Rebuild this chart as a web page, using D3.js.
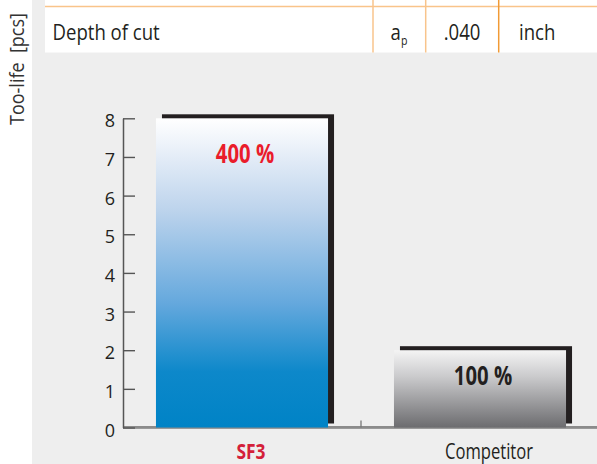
<!DOCTYPE html>
<html>
<head>
<meta charset="utf-8">
<script src="https://cdn.jsdelivr.net/npm/d3@7"></script>
<style>
  html, body { margin: 0; padding: 0; background: #ffffff; }
  svg { display: block; font-family: "Open Sans", "Noto Sans", sans-serif; }
</style>
</head>
<body>
<svg id="chart" width="597" height="464"></svg>
<script>
// ---- data ----
const categories = ["SF3", "Competitor"];
const toolLife = [8, 2];
const percentLabels = ["400 %", "100 %"];
const yTicks = [0, 1, 2, 3, 4, 5, 6, 7, 8];
const yTitle = "Too-life  [pcs]";
const tableLabel = "Depth of cut";
const tableSymbol = "a";
const tableSymbolSub = "p";
const tableValue = ".040";
const tableUnit = "inch";

// ---- layout ----
const W = 597, H = 464;
const svg = d3.select("#chart");
const defs = svg.append("defs");

const gBlue = defs.append("linearGradient").attr("id", "gBlue")
  .attr("x1", 0).attr("y1", 0).attr("x2", 0).attr("y2", 1);
[[0, "#ffffff"], [0.08, "#eef3fa"], [0.3, "#bcd3ec"], [0.6, "#64a8dd"], [0.82, "#0d88ca"], [1, "#0083c6"]]
  .forEach(([o, c]) => gBlue.append("stop").attr("offset", o).attr("stop-color", c));
const gGray = defs.append("linearGradient").attr("id", "gGray")
  .attr("x1", 0).attr("y1", 0).attr("x2", 0).attr("y2", 1);
[[0, "#f4f4f4"], [0.35, "#c9c9cb"], [1, "#6c6c6f"]]
  .forEach(([o, c]) => gGray.append("stop").attr("offset", o).attr("stop-color", c));

// background panels
svg.append("rect").attr("x", 32).attr("y", 0).attr("width", W - 32).attr("height", H).attr("fill", "#eeeeee");
svg.append("rect").attr("x", 45).attr("y", 0).attr("width", W - 45).attr("height", 52.5).attr("fill", "#ffffff");

// table row
const tbl = svg.append("g");
tbl.append("line").attr("x1", 45).attr("x2", W).attr("y1", 6.5).attr("y2", 6.5)
  .attr("stroke", "#f9c48a").attr("stroke-width", 1.6);
[[373, "#f8c48c"], [425.7, "#f8c48c"], [498.7, "#f19a35"]].forEach(([x, c]) => {
  tbl.append("line").attr("x1", x).attr("x2", x).attr("y1", 0).attr("y2", 52.5)
    .attr("stroke", c).attr("stroke-width", 1.5);
});
const tfs = 21, tsx = 0.885;
tbl.append("text").attr("transform", `translate(52.5,39.5) scale(${tsx},1)`)
  .attr("font-size", tfs).attr("fill", "#231f20").text(tableLabel);
const sym = tbl.append("text").attr("transform", `translate(399,39.5) scale(${tsx},1)`)
  .attr("font-size", tfs).attr("fill", "#231f20").attr("text-anchor", "middle");
sym.append("tspan").text(tableSymbol);
sym.append("tspan").attr("font-size", 12).attr("dy", 5).text(tableSymbolSub);
tbl.append("text").attr("transform", `translate(462,39.5) scale(${tsx},1)`)
  .attr("font-size", tfs).attr("fill", "#231f20").attr("text-anchor", "middle").text(tableValue);
tbl.append("text").attr("transform", `translate(519,39.5) scale(${tsx},1)`)
  .attr("font-size", tfs).attr("fill", "#231f20").text(tableUnit);

// y title
svg.append("text").attr("transform", "translate(23.5,125) rotate(-90) scale(0.9,1)")
  .attr("font-size", 20).attr("fill", "#333333").style("white-space", "pre").text(yTitle);

// scales
const y = d3.scaleLinear().domain([0, 8]).range([427.5, 118.3]);
const x = d3.scaleBand().domain(categories).range([123, 599])
  .paddingInner(0.277).paddingOuter(0.1385);

// dark base line (visible between bars)
svg.append("line").attr("x1", 123).attr("x2", W).attr("y1", y(0) - 0.5).attr("y2", y(0) - 0.5)
  .attr("stroke", "#6a6a6a").attr("stroke-width", 1.5);
// category separator tick
const sepX = x(categories[1]) - x.step() * x.paddingInner() / 2;
svg.append("line").attr("x1", sepX).attr("x2", sepX).attr("y1", y(0) - 7).attr("y2", y(0))
  .attr("stroke", "#777").attr("stroke-width", 1.3);

// bars
const bars = svg.append("g").selectAll("g").data(categories).join("g");
bars.append("rect")
  .attr("x", d => x(d) + 6).attr("y", (d, i) => y(toolLife[i]) - 4)
  .attr("width", x.bandwidth()).attr("height", (d, i) => y(0) - y(toolLife[i]))
  .attr("fill", "#231f20");
bars.append("rect")
  .attr("x", d => x(d)).attr("y", (d, i) => y(toolLife[i]))
  .attr("width", x.bandwidth()).attr("height", (d, i) => y(0) - y(toolLife[i]))
  .attr("fill", (d, i) => i === 0 ? "url(#gBlue)" : "url(#gGray)");
bars.append("text")
  .attr("transform", (d, i) => {
    const h = y(0) - y(toolLife[i]);
    const off = Math.max(35, Math.min(45, h * 0.15));
    return `translate(${x(d) + x.bandwidth() / 2 + 3},${y(toolLife[i]) + off}) scale(0.78,1)`;
  })
  .attr("text-anchor", "middle").attr("font-size", 26).attr("font-weight", 700)
  .attr("fill", (d, i) => i === 0 ? "#ea1c2b" : "#231f20")
  .text((d, i) => percentLabels[i]);

// light base line
svg.append("line").attr("x1", 123).attr("x2", W).attr("y1", y(0) + 1).attr("y2", y(0) + 1)
  .attr("stroke", "#9a9a9a").attr("stroke-width", 1.2);

// y axis
const yAxis = d3.axisLeft(y).tickValues(yTicks).tickSizeInner(-12).tickSizeOuter(0).tickPadding(8);
const ga = svg.append("g").attr("transform", "translate(123,0)").call(yAxis);
ga.select(".domain").attr("stroke", "#555").attr("stroke-width", 1.5);
ga.selectAll(".tick line").attr("stroke", "#555").attr("stroke-width", 1.4);
ga.selectAll(".tick text").attr("font-size", 18).attr("fill", "#231f20")
  .attr("font-family", "'Open Sans', sans-serif").attr("dy", "0.48em");

// category labels
svg.append("g").selectAll("text").data(categories).join("text")
  .attr("transform", d => `translate(${x(d) + x.bandwidth() / 2 + 9},458.5) scale(0.79,1)`)
  .attr("text-anchor", "middle")
  .attr("font-size", (d, i) => i === 0 ? 22 : 21)
  .attr("font-weight", (d, i) => i === 0 ? 700 : 400)
  .attr("fill", (d, i) => i === 0 ? "#d42039" : "#231f20")
  .text(d => d);
</script>
</body>
</html>
